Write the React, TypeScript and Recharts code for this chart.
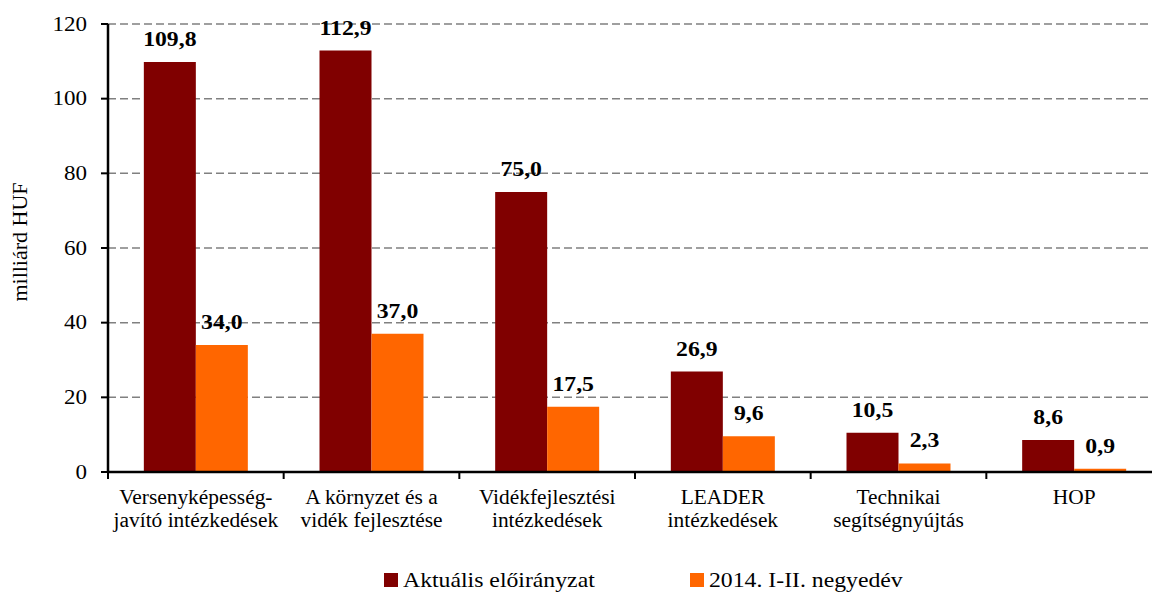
import React from 'react';
import { BarChart, Bar, XAxis, YAxis, CartesianGrid, Legend, LabelList } from 'recharts';

const categories = [
  'Versenyképesség-\njavító intézkedések',
  'A környzet és a\nvidék fejlesztése',
  'Vidékfejlesztési\nintézkedések',
  'LEADER\nintézkedések',
  'Technikai\nsegítségnyújtás',
  'HOP',
];
const aktualis = [109.8, 112.9, 75.0, 26.9, 10.5, 8.6];
const negyedev = [34.0, 37.0, 17.5, 9.6, 2.3, 0.9];
const yTicks = [0, 20, 40, 60, 80, 100, 120];
const seriesNames = ['Aktuális előirányzat', '2014. I-II. negyedév'];
const colors = ['#800000', '#FF6600'];

const data = categories.map((c, i) => ({ name: c, a: aktualis[i], b: negyedev[i] }));

const CHART_W = 1162;
const CHART_H = 592;
const Y_AXIS_W = 108;
const BAND = (CHART_W - Y_AXIS_W) / categories.length;
const FONT = '"Liberation Serif", "Times New Roman", serif';

const fmt = (v: number) => v.toFixed(1).replace('.', ',');

const YTick = (props: any) => {
  const { x, y, payload } = props;
  return (
    <g transform={`translate(${x},${y}) scale(1.15,1)`}>
      <text x={0} y={0} dy={6.5} textAnchor="end" fontFamily={FONT} fontSize={20} fill="#000">
        {payload.value}
      </text>
    </g>
  );
};

const XTick = (props: any) => {
  const { x, y, payload, index } = props;
  const lines = String(payload.value).split('\n');
  const axisY = y - 8;
  return (
    <g>
      <line x1={x - BAND / 2} x2={x - BAND / 2} y1={axisY} y2={axisY + 7} stroke="#000" strokeWidth={2} />
      {index === categories.length - 1 && (
        <line x1={x + BAND / 2} x2={x + BAND / 2} y1={axisY} y2={axisY + 7} stroke="#000" strokeWidth={2} />
      )}
      <g transform={`translate(${x},${axisY}) scale(1.07,1)`}>
        {lines.map((l, i) => (
          <text key={i} x={0} y={32 + i * 23} textAnchor="middle" fontFamily={FONT} fontSize={20} fill="#000">
            {l}
          </text>
        ))}
      </g>
    </g>
  );
};

const BarLabel = (props: any) => {
  const { x, y, width, value } = props;
  return (
    <g transform={`translate(${x + width / 2},${y - 16}) scale(1.13,1)`}>
      <text x={0} y={0} textAnchor="middle" fontFamily={FONT} fontSize={21} fontWeight="bold" fill="#000">
        {fmt(value)}
      </text>
    </g>
  );
};

const YLabel = (props: any) => {
  const { viewBox } = props;
  const cx = 19;
  const cy = viewBox.y + viewBox.height / 2 - 6;
  return (
    <text
      x={cx}
      y={cy}
      transform={`rotate(-90, ${cx}, ${cy})`}
      textAnchor="middle"
      dominantBaseline="central"
      fontFamily={FONT}
      fontSize={22}
      fill="#000"
    >
      milliárd HUF
    </text>
  );
};

const LegendContent = (props: any) => {
  const payload = [...(props.payload || [])].sort(
    (p: any, q: any) => seriesNames.indexOf(p.value) - seriesNames.indexOf(q.value)
  );
  return (
    <div style={{ display: 'flex', alignItems: 'center', height: 24, paddingLeft: 384 }}>
      {payload.map((p: any, i: number) => (
        <div key={i} style={{ display: 'flex', alignItems: 'center', width: i === 0 ? 306 : 300 }}>
          <div style={{ width: 14, height: 14, background: p.color, marginRight: 5 }} />
          <span
            style={{
              fontFamily: FONT,
              fontSize: 21,
              color: '#000',
              display: 'inline-block',
              transform: 'scaleX(1.13)',
              transformOrigin: 'left center',
              whiteSpace: 'nowrap',
              lineHeight: '24px',
            }}
          >
            {p.value}
          </span>
        </div>
      ))}
    </div>
  );
};

export default function App() {
  return (
    <div style={{ position: 'absolute', left: 0, top: 0, width: 1152, height: CHART_H, overflow: 'hidden', background: '#fff' }}>
      <BarChart
        width={CHART_W}
        height={CHART_H}
        data={data}
        margin={{ top: 24, right: 0, left: 0, bottom: 0 }}
        barCategoryGap="20.4%"
        barGap={0}
      >
        <CartesianGrid vertical={false} stroke="#808080" strokeWidth={1.5} strokeDasharray="8 4" />
        <XAxis
          dataKey="name"
          height={96}
          interval={0}
          tickLine={false}
          tickSize={6}
          tickMargin={2}
          axisLine={{ stroke: '#000', strokeWidth: 2.5 }}
          tick={<XTick />}
        />
        <YAxis
          width={Y_AXIS_W}
          domain={[0, 120]}
          ticks={yTicks}
          interval={0}
          tickSize={7}
          tickMargin={14}
          axisLine={{ stroke: '#000', strokeWidth: 2.5 }}
          tickLine={{ stroke: '#000', strokeWidth: 2 }}
          tick={<YTick />}
          label={<YLabel />}
        />
        <Legend
          verticalAlign="bottom"
          height={24}
          wrapperStyle={{ left: 0, bottom: 0, width: 1152, height: 24 }}
          content={<LegendContent />}
        />
        <Bar dataKey="a" name={seriesNames[0]} fill={colors[0]} isAnimationActive={false}>
          <LabelList dataKey="a" content={<BarLabel />} />
        </Bar>
        <Bar dataKey="b" name={seriesNames[1]} fill={colors[1]} isAnimationActive={false}>
          <LabelList dataKey="b" content={<BarLabel />} />
        </Bar>
      </BarChart>
    </div>
  );
}
